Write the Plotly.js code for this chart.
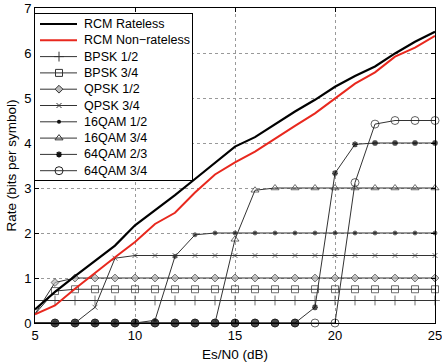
<!DOCTYPE html>
<html><head><meta charset="utf-8">
<script src="https://cdn.plot.ly/plotly-3.0.1.min.js"></script>
<style>html,body{margin:0;padding:0;background:#fff}#c{width:442px;height:363px}</style>
</head><body><div id="c"></div>
<script>
const snr = [5,6,7,8,9,10,11,12,13,14,15,16,17,18,19,20,21,22,23,24,25];
const rcmRateless    = [0.3,0.69,1.04,1.38,1.72,2.17,2.5,2.84,3.2,3.55,3.92,4.13,4.42,4.7,4.96,5.25,5.49,5.7,5.99,6.25,6.47];
const rcmNonRateless = [0.19,0.39,0.76,1.12,1.46,1.8,2.2,2.45,2.9,3.3,3.57,3.81,4.1,4.38,4.66,5.0,5.32,5.57,5.92,6.12,6.38];
const bpsk12  = [0.5,0.5,0.5,0.5,0.5,0.5,0.5,0.5,0.5,0.5,0.5,0.5,0.5,0.5,0.5,0.5,0.5,0.5,0.5,0.5,0.5];
const bpsk34  = [0.2,0.71,0.75,0.75,0.75,0.75,0.75,0.75,0.75,0.75,0.75,0.75,0.75,0.75,0.75,0.75,0.75,0.75,0.75,0.75,0.75];
const qpsk12  = [0.2,0.9,1,1,1,1,1,1,1,1,1,1,1,1,1,1,1,1,1,1,1];
const qpsk34  = [0,0,0,0.35,1.44,1.5,1.5,1.5,1.5,1.5,1.5,1.5,1.5,1.5,1.5,1.5,1.5,1.5,1.5,1.5,1.5];
const qam16_12 = [0,0,0,0,0,0,0.06,1.48,1.96,2,2,2,2,2,2,2,2,2,2,2,2];
const qam16_34 = [0,0,0,0,0,0,0,0,0,0,1.86,2.95,3,3,3,3,3,3,3,3,3];
const qam64_23 = [0,0,0,0,0,0,0,0,0,0,0,0,0,0,0.35,3.33,3.97,4,4,4,4];
const qam64_34 = [0,0,0,0,0,0,0,0,0,0,0,0,0,0,0,0,3.12,4.42,4.5,4.5,4.5];
const names = ['RCM Rateless','RCM Non\u2212rateless','BPSK 1/2','BPSK 3/4','QPSK 1/2','QPSK 3/4','16QAM 1/2','16QAM 3/4','64QAM 2/3','64QAM 3/4'];

const fam = 'Liberation Sans, Arial, sans-serif';
const modLine = {color:'#333', width:1};
const styles = [
  {line:{color:'#000', width:2.2}},
  {line:{color:'#e8281e', width:2}},
  {line:modLine, marker:{symbol:'cross-thin-open', size:7, color:'#333', line:{width:1,color:'#333'}}},
  {line:modLine, marker:{symbol:'square-open', size:7, color:'#333', line:{width:1}}},
  {line:modLine, marker:{symbol:'diamond', size:6, color:'#bbb', line:{width:1,color:'#333'}}},
  {line:modLine, marker:{symbol:'x-thin-open', size:5, color:'#333', line:{width:1,color:'#333'}}},
  {line:modLine, marker:{symbol:'circle', size:4, color:'#111'}},
  {line:modLine, marker:{symbol:'triangle-up-open', size:7, color:'#333', line:{width:1}}},
  {line:modLine, marker:{symbol:'asterisk-open', size:5, color:'#111', line:{width:1.5,color:'#111'}}},
  {line:modLine, marker:{symbol:'circle-open', size:8, color:'#222', line:{width:1}}}
];
const series = [rcmRateless, rcmNonRateless, bpsk12, bpsk34, qpsk12, qpsk34, qam16_12, qam16_34, qam64_23, qam64_34];

const traces = [];
for (let i = series.length - 1; i >= 0; i--) {
  const st = styles[i];
  const t = {x:snr, y:series[i], name:names[i], type:'scatter', showlegend:false, line:st.line, cliponaxis:false, xaxis:'x', yaxis:'y'};
  if (st.marker) {
    t.mode = 'lines+markers';
    t.marker = JSON.parse(JSON.stringify(st.marker));
    // no marker is drawn at the left edge of the axis (as in the reference)
    t.marker.size = snr.map(s => s === snr[0] ? 0 : st.marker.size);
    if (i === 8) { // 64QAM 2/3 markers look like solid blobs where rate is zero
      t.marker.symbol = series[i].map(v => v === 0 ? 'circle' : 'asterisk-open');
      t.marker.size = series[i].map((v, k) => k === 0 ? 0 : (v === 0 ? 7 : 5));
      t.marker.color = '#000';
      t.marker.line = {width:1.5, color:'#000'};
    }
  } else t.mode = 'lines';
  traces.push(t);
}

// custom legend drawn in its own small subplot (pixel-like units)
const LW = 157, LH = 166, rowGap = 16.3, row0 = 10;
const annotations = [];
names.forEach((nm, i) => {
  const yy = row0 + i * rowGap;
  const st = styles[i];
  traces.push({x:[5, 42], y:[yy, yy], mode:'lines', line:st.line, showlegend:false, xaxis:'x2', yaxis:'y2', hoverinfo:'skip'});
  if (st.marker) traces.push({x:[24], y:[yy], mode:'markers', marker:st.marker, showlegend:false, xaxis:'x2', yaxis:'y2', hoverinfo:'skip'});
  annotations.push({xref:'x2', yref:'y2', x:47, y:yy, text:nm, showarrow:false, xanchor:'left', yanchor:'middle',
                    font:{family:fam, size:12.5, color:'#000'}});
});

const font = {family:fam, size:13, color:'#000'};
const tfont = {family:fam, size:13.5, color:'#000'};
const layout = {
  width:442, height:363,
  margin:{l:35, r:7, t:8, b:40},
  paper_bgcolor:'#fff', plot_bgcolor:'#fff',
  font:font,
  showlegend:false,
  annotations:annotations,
  xaxis:{range:[5,25], dtick:5, tick0:5, showline:true, linecolor:'#000', linewidth:1, mirror:'ticks',
         ticks:'inside', ticklen:4, tickcolor:'#000', showgrid:true, gridcolor:'#999', griddash:'dot', gridwidth:1,
         zeroline:false, title:{text:'Es/N0 (dB)', font:tfont, standoff:7}, tickfont:font, ticklabeloverflow:'allow', domain:[0,1]},
  yaxis:{range:[0,7], dtick:1, tick0:0, showline:true, linecolor:'#000', linewidth:1, mirror:'ticks',
         ticks:'inside', ticklen:4, tickcolor:'#000', showgrid:true, gridcolor:'#999', griddash:'dot', gridwidth:1,
         zeroline:false, title:{text:'Rate (bits per symbol)', font:tfont, standoff:4}, tickfont:font, domain:[0,1]},
  xaxis2:{domain:[0, LW/400], range:[0, LW], showline:true, mirror:true, linecolor:'#000', linewidth:1,
          showgrid:false, zeroline:false, showticklabels:false, ticks:'', anchor:'y2', fixedrange:true},
  yaxis2:{domain:[1 - (14 - 8 + LH)/315, 1 - (14 - 8)/315], range:[LH, 0], showline:true, mirror:true, linecolor:'#000', linewidth:1,
          showgrid:false, zeroline:false, showticklabels:false, ticks:'', anchor:'x2', fixedrange:true}
};
Plotly.newPlot('c', traces, layout, {staticPlot:true, displayModeBar:false});
</script></body></html>
